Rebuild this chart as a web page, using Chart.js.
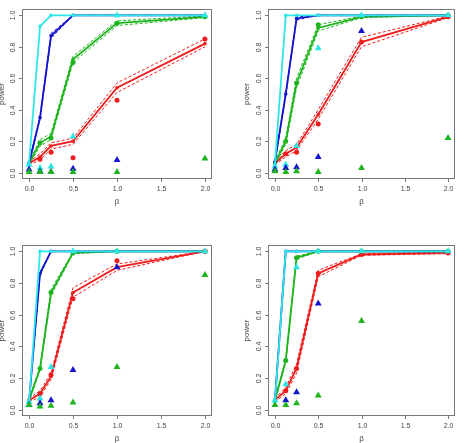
<!DOCTYPE html>
<html>
<head>
<meta charset="utf-8">
<script src="https://cdn.jsdelivr.net/npm/chart.js@4"></script>
<style>
  html, body { margin: 0; padding: 0; background: #fff; }
  body { width: 459px; height: 443px; position: relative; overflow: hidden; }
  canvas { position: absolute; }
</style>
</head>
<body>
<canvas id="p1" width="229" height="215" style="left:0;top:0"></canvas>
<canvas id="p2" width="230" height="215" style="left:229px;top:0"></canvas>
<canvas id="p3" width="229" height="228" style="left:0;top:215px"></canvas>
<canvas id="p4" width="230" height="228" style="left:229px;top:215px"></canvas>
<script>
// beta values shared by every panel
const betas = [0, 0.125, 0.25, 0.5, 1, 2];
const xTicks = [0, 0.5, 1, 1.5, 2];
const yTicks = [0, 0.2, 0.4, 0.6, 0.8, 1];

// Panel 1 (top left)
const p1RedLine = [0.06, 0.10, 0.17, 0.20, 0.54, 0.82];
const p1RedUp = [0.07, 0.12, 0.19, 0.22, 0.57, 0.85];
const p1RedLo = [0.05, 0.08, 0.15, 0.18, 0.51, 0.80];
const p1RedDots = [null, 0.085, 0.13, 0.095, 0.46, 0.85];
const p1GreenLine = [0.06, 0.19, 0.23, 0.72, 0.95, 0.99];
const p1GreenUp = [0.07, 0.21, 0.25, 0.74, 0.965, 0.995];
const p1GreenLo = [0.05, 0.17, 0.21, 0.70, 0.935, 0.985];
const p1GreenDots = [null, 0.19, 0.22, 0.70, 0.95, 0.99];
const p1GreenTri = [0.005, 0.005, 0.005, 0.005, 0.005, 0.09];
const p1BlueLine = [0.06, 0.35, 0.87, 1.0, 1.0, 1.0];
const p1BlueUp = [0.07, 0.36, 0.885, 1.0, 1.0, 1.0];
const p1BlueLo = [0.05, 0.34, 0.855, 1.0, 1.0, 1.0];
const p1BlueTri = [0.02, 0.01, 0.005, 0.025, 0.08, null];
const p1CyanLine = [0.06, 0.93, 1.0, 1.0, 1.0, 1.0];
const p1CyanTri = [0.05, 0.03, 0.04, 0.23, 1.0, 1.0];

// Panel 2 (top right)
const p2RedLine = [0.06, 0.12, 0.16, 0.37, 0.83, 0.99];
const p2RedUp = [0.07, 0.14, 0.18, 0.40, 0.86, 0.995];
const p2RedLo = [0.05, 0.10, 0.14, 0.34, 0.80, 0.985];
const p2RedDots = [null, 0.12, 0.13, 0.31, 0.83, 0.99];
const p2GreenLine = [0.06, 0.20, 0.57, 0.92, 0.99, 1.0];
const p2GreenUp = [0.07, 0.22, 0.60, 0.94, 0.995, 1.0];
const p2GreenLo = [0.05, 0.18, 0.54, 0.90, 0.985, 1.0];
const p2GreenDots = [null, 0.20, 0.57, 0.94, 0.99, 1.0];
const p2GreenTri = [0.01, 0.005, 0.01, 0.005, 0.03, 0.22];
const p2BlueLine = [0.07, 0.50, 0.98, 1.0, 1.0, 1.0];
const p2BlueUp = [0.07, 0.51, 0.99, 1.0, 1.0, 1.0];
const p2BlueLo = [0.06, 0.49, 0.97, 1.0, 1.0, 1.0];
const p2BlueTri = [0.02, 0.03, 0.035, 0.10, 0.90, null];
const p2CyanLine = [0.05, 1.0, 1.0, 1.0, 1.0, 1.0];
const p2CyanTri = [0.04, 0.05, 0.17, 0.79, 1.0, 1.0];

// Panel 3 (bottom left)
const p3RedLine = [0.06, 0.10, 0.21, 0.74, 0.90, 1.0];
const p3RedUp = [0.07, 0.12, 0.23, 0.77, 0.92, 1.0];
const p3RedLo = [0.05, 0.08, 0.19, 0.71, 0.88, 1.0];
const p3RedDots = [null, 0.10, 0.22, 0.70, 0.94, 1.0];
const p3GreenLine = [0.06, 0.26, 0.74, 0.99, 1.0, 1.0];
const p3GreenUp = [0.07, 0.27, 0.76, 0.995, 1.0, 1.0];
const p3GreenLo = [0.05, 0.25, 0.72, 0.985, 1.0, 1.0];
const p3GreenDots = [null, 0.26, 0.74, 0.99, 1.0, 1.0];
const p3GreenTri = [0.03, 0.02, 0.025, 0.045, 0.27, 0.85];
const p3BlueLine = [0.05, 0.86, 1.0, 1.0, 1.0, 1.0];
const p3BlueUp = [0.05, 0.87, 1.0, 1.0, 1.0, 1.0];
const p3BlueLo = [0.05, 0.85, 1.0, 1.0, 1.0, 1.0];
const p3BlueTri = [0.03, 0.04, 0.06, 0.25, 0.90, null];
const p3CyanLine = [0.04, 1.0, 1.0, 1.0, 1.0, 1.0];
const p3CyanTri = [0.05, 0.07, 0.27, 1.0, 1.0, 1.0];

// Panel 4 (bottom right)
const p4RedLine = [0.06, 0.12, 0.26, 0.86, 0.98, 0.99];
const p4RedUp = [0.07, 0.14, 0.29, 0.88, 0.985, 0.995];
const p4RedLo = [0.05, 0.10, 0.23, 0.84, 0.975, 0.985];
const p4RedDots = [null, 0.12, 0.26, 0.86, 0.98, 0.99];
const p4GreenLine = [0.06, 0.31, 0.96, 1.0, 1.0, 1.0];
const p4GreenUp = [0.07, 0.32, 0.97, 1.0, 1.0, 1.0];
const p4GreenLo = [0.05, 0.30, 0.95, 1.0, 1.0, 1.0];
const p4GreenDots = [null, 0.31, 0.96, 1.0, 1.0, 1.0];
const p4GreenTri = [0.03, 0.03, 0.04, 0.09, 0.56, null];
const p4BlueLine = [0.06, 1.0, 1.0, 1.0, 1.0, 1.0];
const p4BlueUp = [0.06, 1.0, 1.0, 1.0, 1.0, 1.0];
const p4BlueLo = [0.06, 1.0, 1.0, 1.0, 1.0, 1.0];
const p4BlueTri = [null, 0.06, 0.11, 0.67, null, null];
const p4CyanLine = [0.05, 1.0, 1.0, 1.0, 1.0, 1.0];
const p4CyanTri = [0.06, 0.16, 0.90, 1.0, 1.0, 1.0];

const RED = '#ee1c1c', GREEN = '#1db41d', BLUE = '#1414cc', CYAN = '#2ee6e6';
const FONT = '"Liberation Sans", Arial, sans-serif';

function pts(vals) {
  return vals.map((v, i) => ({ x: betas[i], y: v })).filter(p => p.y !== null);
}

function lineSet(vals, color, order) {
  return { type: 'line', data: pts(vals), borderColor: color, backgroundColor: color,
    borderWidth: 1.8, pointRadius: 1.8, pointBorderWidth: 0, tension: 0, order: order };
}
function bandSet(vals, color, order) {
  return { type: 'line', data: pts(vals), borderColor: color, borderWidth: 1,
    borderDash: [3, 2], pointRadius: 0, tension: 0, order: order };
}
function dotSet(vals, color, order) {
  return { type: 'scatter', data: pts(vals), backgroundColor: color, borderWidth: 0,
    pointRadius: 2.5, order: order };
}
function triSet(vals, color, order) {
  return { type: 'scatter', data: pts(vals), backgroundColor: color, borderColor: color,
    borderWidth: 0, pointStyle: 'triangle', pointRadius: 4, order: order };
}

// R-style box, ticks and labels drawn from the chart's own scales
const rAxes = {
  id: 'rAxes',
  afterDraw(chart) {
    const { ctx, chartArea: a, scales: { x, y } } = chart;
    const o = chart.options.plugins.rAxes;
    ctx.save();
    ctx.strokeStyle = '#777';
    ctx.lineWidth = 1;
    ctx.strokeRect(Math.round(a.left) + 0.5, Math.round(a.top) + 0.5,
      Math.round(a.width) - 1, Math.round(a.height) - 1);
    ctx.fillStyle = '#444';
    ctx.font = '7px ' + FONT;
    // x axis
    ctx.textAlign = 'center';
    ctx.textBaseline = 'middle';
    xTicks.forEach(t => {
      const px = Math.round(x.getPixelForValue(t)) + 0.5;
      ctx.beginPath(); ctx.moveTo(px, a.bottom); ctx.lineTo(px, a.bottom + 3); ctx.stroke();
      ctx.fillText(t.toFixed(1), px, a.bottom + 10);
    });
    // y axis, rotated labels
    yTicks.forEach(t => {
      const py = Math.round(y.getPixelForValue(t)) + 0.5;
      ctx.beginPath(); ctx.moveTo(a.left, py); ctx.lineTo(a.left - 3, py); ctx.stroke();
      ctx.save();
      ctx.translate(a.left - 9, py);
      ctx.rotate(-Math.PI / 2);
      ctx.fillText(t.toFixed(1), 0, 0);
      ctx.restore();
    });
    ctx.font = '8px ' + FONT;
    ctx.fillText('β', (a.left + a.right) / 2, a.bottom + 23);
    ctx.save();
    ctx.translate(o.titleX, (a.top + a.bottom) / 2);
    ctx.rotate(-Math.PI / 2);
    ctx.fillText('power', 0, 0);
    ctx.restore();
    ctx.restore();
  }
};

function makePanel(id, pad, titleX, s) {
  const datasets = [
    triSet(s.greenTri, GREEN, 1),
    triSet(s.blueTri, BLUE, 1),
    triSet(s.cyanTri, CYAN, 1),
    dotSet(s.redDots, RED, 2),
    dotSet(s.greenDots, GREEN, 2),
    lineSet(s.cyanLine, CYAN, 3),
    lineSet(s.blueLine, BLUE, 4),
    bandSet(s.blueUp, BLUE, 4),
    bandSet(s.blueLo, BLUE, 4),
    lineSet(s.greenLine, GREEN, 5),
    bandSet(s.greenUp, GREEN, 5),
    bandSet(s.greenLo, GREEN, 5),
    lineSet(s.redLine, RED, 6),
    bandSet(s.redUp, RED, 6),
    bandSet(s.redLo, RED, 6),
  ];
  new Chart(document.getElementById(id), {
    type: 'line',
    data: { datasets: datasets },
    options: {
      responsive: false,
      animation: false,
      devicePixelRatio: 1,
      layout: { padding: pad },
      scales: {
        x: { type: 'linear', min: -0.08, max: 2.08, display: false },
        y: { type: 'linear', min: -0.04, max: 1.04, display: false },
      },
      plugins: {
        legend: { display: false },
        tooltip: { enabled: false },
        rAxes: { titleX: titleX },
      },
    },
    plugins: [rAxes],
  });
}

makePanel('p1', { left: 22, right: 17, top: 9, bottom: 36 }, 2, {
  redLine: p1RedLine, redUp: p1RedUp, redLo: p1RedLo, redDots: p1RedDots,
  greenLine: p1GreenLine, greenUp: p1GreenUp, greenLo: p1GreenLo, greenDots: p1GreenDots, greenTri: p1GreenTri,
  blueLine: p1BlueLine, blueUp: p1BlueUp, blueLo: p1BlueLo, blueTri: p1BlueTri,
  cyanLine: p1CyanLine, cyanTri: p1CyanTri,
});
makePanel('p2', { left: 39, right: 1, top: 9, bottom: 36 }, 18, {
  redLine: p2RedLine, redUp: p2RedUp, redLo: p2RedLo, redDots: p2RedDots,
  greenLine: p2GreenLine, greenUp: p2GreenUp, greenLo: p2GreenLo, greenDots: p2GreenDots, greenTri: p2GreenTri,
  blueLine: p2BlueLine, blueUp: p2BlueUp, blueLo: p2BlueLo, blueTri: p2BlueTri,
  cyanLine: p2CyanLine, cyanTri: p2CyanTri,
});
makePanel('p3', { left: 22, right: 17, top: 30, bottom: 27 }, 2, {
  redLine: p3RedLine, redUp: p3RedUp, redLo: p3RedLo, redDots: p3RedDots,
  greenLine: p3GreenLine, greenUp: p3GreenUp, greenLo: p3GreenLo, greenDots: p3GreenDots, greenTri: p3GreenTri,
  blueLine: p3BlueLine, blueUp: p3BlueUp, blueLo: p3BlueLo, blueTri: p3BlueTri,
  cyanLine: p3CyanLine, cyanTri: p3CyanTri,
});
makePanel('p4', { left: 39, right: 1, top: 30, bottom: 27 }, 18, {
  redLine: p4RedLine, redUp: p4RedUp, redLo: p4RedLo, redDots: p4RedDots,
  greenLine: p4GreenLine, greenUp: p4GreenUp, greenLo: p4GreenLo, greenDots: p4GreenDots, greenTri: p4GreenTri,
  blueLine: p4BlueLine, blueUp: p4BlueUp, blueLo: p4BlueLo, blueTri: p4BlueTri,
  cyanLine: p4CyanLine, cyanTri: p4CyanTri,
});
</script>
</body>
</html>
